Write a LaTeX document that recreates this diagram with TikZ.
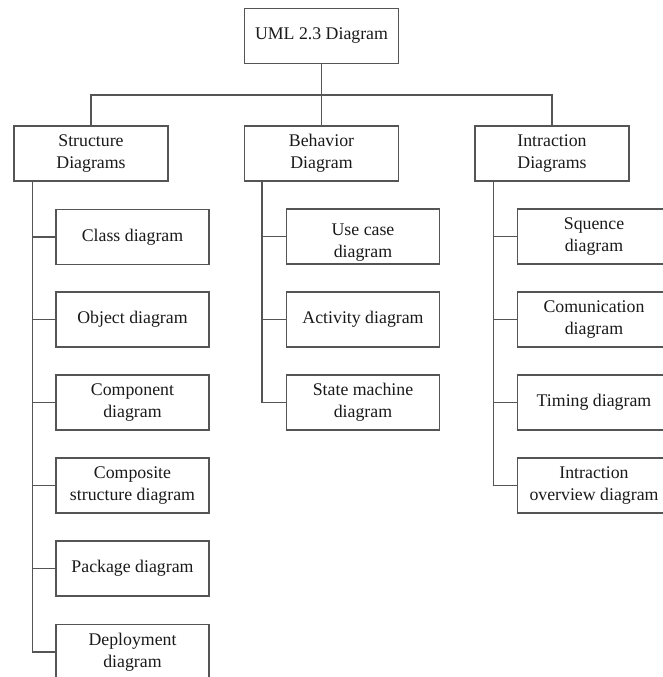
\documentclass[tikz,border=0pt]{standalone}
\usepackage{fontspec}
\setmainfont{Liberation Serif}
\definecolor{edge}{HTML}{555555}
\definecolor{ink}{HTML}{1A1A1A}
\begin{document}
\begin{tikzpicture}[x=1pt,y=-1pt,
  box/.style={draw=edge, line width=1.1pt, fill=white, text=ink, align=center,
    minimum width=153pt, minimum height=55pt, inner sep=0pt,
    font=\fontsize{17.8}{22}\selectfont},
  cat/.style={box, minimum width=154pt},
  link/.style={draw=edge, line width=1.1pt}]
\useasboundingbox (0,0) rectangle (663,677);

% root and the three categories
\node[cat] (root) at (321.5,36) {UML 2.3 Diagram};
\node[cat] (st) at (91,153.5) {Structure\\Diagrams};
\node[cat] (bh) at (321.5,153.5) {Behavior\\Diagram};
\node[cat] (in) at (552,153.5) {Intraction\\Diagrams};

\coordinate (bus) at (321.5,95);
\draw[link] (root.south) -- (bus);
\draw[link] (st.north) |- (bus) -| (in.north);
\draw[link] (bus) -- (bh.north);

% structure diagrams
\node[box] (cls) at (132.5,237) {Class diagram};
\node[box] (obj) at (132.5,319.5) {Object diagram};
\node[box] (cmp) at (132.5,402.5) {Component\\diagram};
\node[box] (cst) at (132.5,485.5) {Composite\\structure diagram};
\node[box] (pkg) at (132.5,568.5) {Package diagram};
\node[box] (dep) at (132.5,652) {Deployment\\diagram};

% behavior diagrams
\node[box] (use) at (363,236.5) {};
\node[box, draw=none, fill=none] (uset) at (363,243) {Use case\\diagram};
\node[box] (act) at (363,319.5) {Activity diagram};
\node[box] (stm) at (363,402.5) {State machine\\diagram};

% interaction diagrams
\node[box] (seq) at (594,236.5) {Squence\\diagram};
\node[box] (com) at (594,319.5) {Comunication\\diagram};
\node[box] (tim) at (594,402.5) {Timing diagram};
\node[box] (ovr) at (594,485.5) {Intraction\\overview diagram};

% trunk lines from each category down to its last member, with a tick per member
\coordinate (sttr) at ([xshift=19pt]st.south west);
\coordinate (bhtr) at ([xshift=18pt]bh.south west);
\coordinate (intr) at ([xshift=19pt]in.south west);
\draw[link] (sttr) |- (dep.west);
\foreach \c in {cls,obj,cmp,cst,pkg}
  \draw[link] (\c.west) -- (\c.west -| sttr);
\draw[link] (bhtr) |- (stm.west);
\foreach \c in {use,act}
  \draw[link] (\c.west) -- (\c.west -| bhtr);
\draw[link] (intr) |- (ovr.west);
\foreach \c in {seq,com,tim}
  \draw[link] (\c.west) -- (\c.west -| intr);
\end{tikzpicture}
\end{document}
